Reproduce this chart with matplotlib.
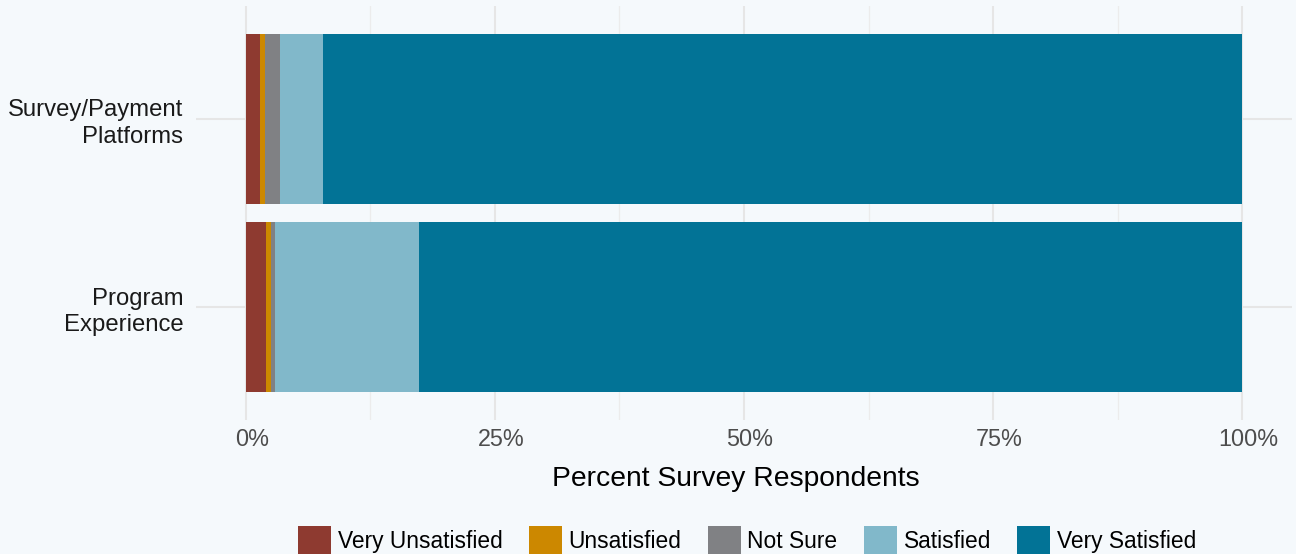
import numpy as np
import matplotlib.pyplot as plt
import matplotlib.transforms as mtransforms
from matplotlib.patches import Patch
from matplotlib.ticker import FuncFormatter, MultipleLocator

# data (percent of respondents)
categories = ['Program\nExperience', 'Survey/Payment\nPlatforms']
levels = ['Very Unsatisfied', 'Unsatisfied', 'Not Sure', 'Satisfied', 'Very Satisfied']
very_unsatisfied = [2.0, 1.4]
unsatisfied = [0.55, 0.55]
not_sure = [0.35, 1.5]
satisfied = [14.5, 4.3]
very_satisfied = [82.6, 92.25]
colors = ['#8E3A30', '#CC8800', '#808184', '#81B8CA', '#027396']

bg = '#F5F9FC'
plt.rcParams['font.family'] = ['Liberation Sans', 'DejaVu Sans']

fig = plt.figure(figsize=(12.96, 5.54), dpi=100, facecolor=bg)
ax = fig.add_axes([196 / 1296, 1 - 420 / 554, (1292 - 196) / 1296, (420 - 6) / 554])
ax.set_facecolor(bg)

y = np.arange(len(categories))
left = np.zeros(len(categories))
for vals, col, lab in zip([very_unsatisfied, unsatisfied, not_sure, satisfied, very_satisfied],
                          colors, levels):
    ax.barh(y, vals, left=left, height=0.9, color=col, label=lab, zorder=3)
    left += np.array(vals)

ax.set_xlim(-5, 105)
ax.set_ylim(-0.6, 1.6)
ax.set_yticks(y)
ax.set_yticklabels(categories, fontsize=17.2, color='#1A1A1A', ha='right', linespacing=1.26)
ax.xaxis.set_major_locator(MultipleLocator(25))
ax.xaxis.set_minor_locator(MultipleLocator(12.5))
ax.xaxis.set_major_formatter(FuncFormatter(lambda v, p: f'{v:.0f}%'))
ax.tick_params(axis='x', which='both', length=0, labelsize=16.8, labelcolor='#4D4D4D', pad=6)
ax.tick_params(axis='y', length=0, pad=9)
ax.grid(True, which='major', color='#E6E6E6', linewidth=1.5, zorder=0)
ax.grid(True, which='minor', axis='x', color='#ECECEC', linewidth=0.9, zorder=0)
for s in ax.spines.values():
    s.set_visible(False)

# nudge x tick labels slightly right as in the original
offset = mtransforms.ScaledTranslation(6 / 100, 0, fig.dpi_scale_trans)
for lbl in ax.get_xticklabels():
    lbl.set_transform(lbl.get_transform() + offset)

ax.set_xlabel('Percent Survey Respondents', fontsize=20.3, color='black')
ax.xaxis.set_label_coords((735.5 - 196) / (1292 - 196), -(479 - 420) / (420 - 6))
ax.xaxis.label.set_va('center')

handles = [Patch(facecolor=c, label=l) for c, l in zip(colors, levels)]
fig.legend(handles=handles, loc='center', bbox_to_anchor=(747 / 1296, 14 / 554),
           ncol=5, frameon=False, fontsize=16.4, handlelength=1.45, handleheight=1.45,
           handletextpad=0.3, columnspacing=1.15, borderpad=0, borderaxespad=0)

fig.savefig('out.png', dpi=100, facecolor=bg)
